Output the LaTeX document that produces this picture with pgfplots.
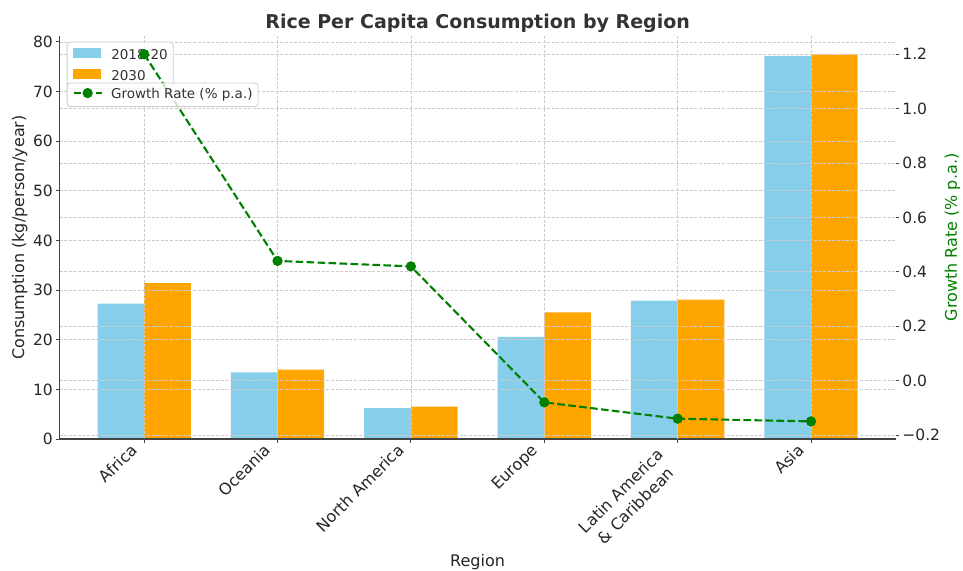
\documentclass[border=0pt]{standalone}
\usepackage{pgfplots}
\pgfplotsset{compat=1.18}
\usepackage{fontspec}
\setmainfont{DejaVu Sans}
\definecolor{skyb}{HTML}{87CEEB}
\definecolor{orng}{HTML}{FFA500}
\definecolor{grn}{HTML}{008000}
\definecolor{tickc}{HTML}{262626}
\definecolor{titlec}{HTML}{333333}
\definecolor{spine}{HTML}{444444}
\definecolor{gridc}{HTML}{CCCCCC}
\pgfplotsset{
  common/.style={
    scale only axis, width=836.2bp, height=403bp,
    xmin=-0.635, xmax=5.635,
    tick align=outside,
    major tick length=3.5bp,
    tick style={color=spine, line width=0.9bp},
    tick label style={font=\fontsize{15.5bp}{18bp}\selectfont, text=tickc},
    /pgf/number format/assume math mode=true,
  },
  leg/.style={
    legend cell align=left,
    legend style={anchor=north west, draw=gridc, line width=0.8bp, fill=white,
      fill opacity=0.8, draw opacity=1, text opacity=1, rounded corners=3bp,
      inner xsep=5.5bp, inner ysep=6bp, row sep=7.6bp,
      font=\fontsize{13.5bp}{16bp}\selectfont,
      nodes={inner sep=0pt, text height=0.76em, text depth=0.236em, text=titlec}},
  },
}
\begin{document}
\begin{tikzpicture}
\begin{axis}[common, leg,
  ymin=0, ymax=81.2,
  axis x line*=bottom, axis y line*=left,
  x axis line style={-}, y axis line style={-},
  axis line style={spine, line width=1.2bp},
  axis on top,
  xtick={0,1,2,3,5},
  xticklabels={Africa,Oceania,North America,Europe,Asia},
  xticklabel style={font=\fontsize{16bp}{21bp}\selectfont, xshift=-11.3bp, yshift=-3bp, rotate=45, anchor=north east, inner sep=0pt, text height=0.76em, text depth=0.236em},
  extra x ticks={4},
  extra x tick labels={{Latin America\\\& Caribbean}},
  extra x tick style={grid=major, xticklabel style={align=center, text height={}, text depth={}, font=\fontsize{16bp}{21bp}\selectfont, xshift=-8.7bp, yshift=6.5bp}},
  ytick={0,10,...,80},
  yticklabels={0,10,20,30,40,50,60,70,80},
  yticklabel style={anchor=east, inner sep=0pt, xshift=-3bp},
  extra y ticks={0.806,11.766,22.726,33.687,44.647,55.607,66.568,77.528},
  extra y tick labels={},
  extra y tick style={grid=major, major tick length=0pt},
  grid=major,
  major grid style={gridc, dash pattern=on 3bp off 1.6bp, line width=0.8bp},
  legend style={at={(rel axis cs:0,1)}, xshift=7.2bp, yshift=-5.7bp,
    /tikz/every odd column/.append style={column sep=10.7bp}},
  legend image code/.code={\fill[#1, sharp corners, fill opacity=1, draw=none] (0bp,-1.5bp) rectangle (28bp,8.5bp);},
  every axis title/.style={at={(0.5,1)}, anchor=base, yshift=7.1bp, font=\bfseries\fontsize{19bp}{22bp}\selectfont, text=titlec},
  title={Rice Per Capita Consumption by Region},
  every axis x label/.style={at={(0.5,0)}, anchor=base, yshift=-127.7bp, font=\fontsize{16bp}{19bp}\selectfont, text=tickc},
  xlabel={Region},
  every axis y label/.style={at={(0,0.5)}, xshift=-39.8bp, rotate=90, anchor=center, font=\fontsize{16bp}{19bp}\selectfont, text=tickc},
  ylabel={Consumption (kg/person/year)},
]
\addplot[ybar, bar width=0.35, bar shift=0pt, fill=skyb, draw=none] coordinates {
  (-0.175,27.3) (0.825,13.4) (1.825,6.2) (2.825,20.6) (3.825,27.9) (4.825,77.2)};
\addlegendentry{2018-20}
\addplot[ybar, bar width=0.35, bar shift=0pt, fill=orng, draw=none] coordinates {
  (0.175,31.4) (1.175,14.0) (2.175,6.5) (3.175,25.5) (4.175,28.1) (5.175,77.5)};
\addlegendentry{2030}
\coordinate (A) at (rel axis cs:0,0);
\coordinate (B) at (rel axis cs:1,1);
\end{axis}
\begin{axis}[common, leg,
  ymin=-0.2147, ymax=1.267,
  axis x line=none, axis y line*=right,
  y axis line style={draw=none},
  ytick={-0.2,0,0.2,0.4,0.6,0.8,1.0,1.2},
  yticklabels={−0.2,0.0,0.2,0.4,0.6,0.8,1.0,1.2},
  yticklabel style={anchor=west, inner sep=0pt, xshift=3bp},
  legend style={at={(rel axis cs:0,1)}, xshift=7.2bp, yshift=-46.7bp,
    /tikz/every odd column/.append style={column sep=8.4bp}},
  legend image code/.code={\draw[#1, sharp corners, mark repeat=2, mark phase=2, draw opacity=1, fill opacity=1] plot coordinates {(0bp,2.5bp) (14bp,2.5bp) (28bp,2.5bp)};},
  every axis y label/.style={at={(1,0.5)}, xshift=56.8bp, rotate=90, anchor=center, font=\fontsize{16bp}{19bp}\selectfont, text=grn},
  ylabel={Growth Rate (\% p.a.)},
]
\addplot[grn, line width=2.1bp, dash pattern=on 7.7bp off 3.3bp, mark=*, mark size=4bp, mark options={solid, fill=grn, draw=grn}] coordinates {
  (0,1.20) (1,0.44) (2,0.42) (3,-0.08) (4,-0.14) (5,-0.15)};
\addlegendentry{Growth Rate (\% p.a.)}
\end{axis}
\pgfresetboundingbox
\path ([xshift=-59.5bp,yshift=-132bp]A) rectangle ([xshift=67.3bp,yshift=36bp]B);
\end{tikzpicture}
\end{document}
